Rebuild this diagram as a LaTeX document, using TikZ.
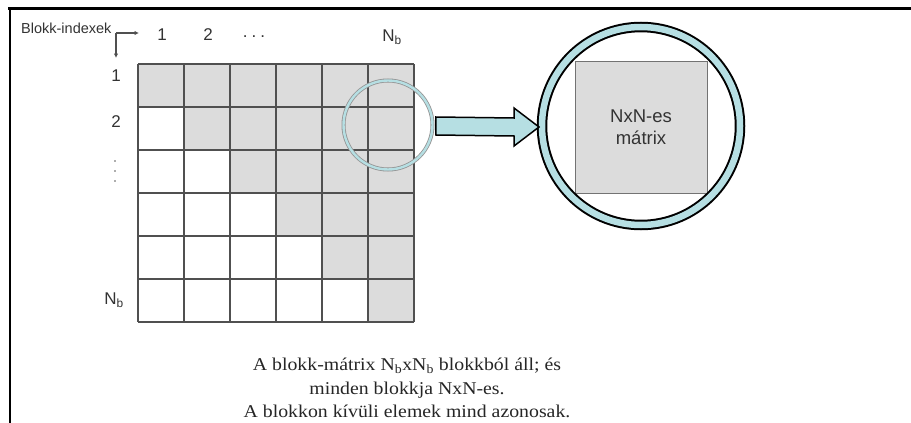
\documentclass[tikz,border=0pt]{standalone}
\usepackage{fontspec}
\setmainfont{Liberation Serif}
\newfontfamily\arial{Liberation Sans}
\usetikzlibrary{calc,arrows.meta}
\definecolor{cellgray}{HTML}{DCDCDC}
\definecolor{gridline}{HTML}{505050}
\definecolor{lensblue}{HTML}{B6DFE3}
\definecolor{labelgray}{HTML}{333333}
\tikzset{
  cell/.style={fill=cellgray, draw=none},
  gridrule/.style={draw=gridline, line width=1.1pt},
  idx/.style={font=\arial\fontsize{17}{17}\selectfont, text=labelgray, inner sep=0pt},
  idxarrow/.style={draw=gridline, line width=1.4pt, -{Latex[length=4.5pt,width=4.5pt]}},
  rowdot/.style={circle, fill=labelgray!80, inner sep=0pt, minimum size=1.6pt},
  lens/.style={circle, inner sep=0pt, draw=gray!85, line width=0.8pt, double=lensblue, double distance=2.4pt},
  bigring/.style={circle, inner sep=0pt, draw=black, line width=2pt, double=lensblue, double distance=6.5pt},
  blockbox/.style={fill=cellgray, draw=gridline!80, line width=0.8pt},
}
\begin{document}
\begin{tikzpicture}[x=1pt, y=-1pt]
  \useasboundingbox (0,0) rectangle (911,423);
  \fill[white] (0,0) rectangle (911,423);
  % frame lines
  \draw[line width=2.6pt] (8,8.7) -- (911,8.7);
  \draw[line width=2.2pt] (10,8) -- (10,423);

  % shaded upper-triangular blocks (diagonal included)
  \foreach \r in {0,...,5} {
    \foreach \c in {\r,...,5} {
      \path[cell] ({138+46*\c},{64+43*\r}) rectangle ({138+46*(\c+1)},{64+43*(\r+1)});
    }
  }
  % grid
  \foreach \c in {0,...,6} \draw[gridrule] ({138+46*\c},64) -- ({138+46*\c},322);
  \foreach \r in {0,...,6} \draw[gridrule] (138,{64+43*\r}) -- (414,{64+43*\r});

  % block indices
  \node[idx, anchor=west, font=\arial\fontsize{14.5}{14.5}\selectfont] (title) at (21,28) {Blokk-indexek};
  \coordinate (corner) at (116,33);
  \coordinate (colarrow) at (139,33);
  \coordinate (rowarrow) at (116,58);
  \draw[idxarrow] (corner) -- (colarrow);
  \draw[idxarrow] (corner) -- (rowarrow);
  \node[idx] (c1) at (162,35) {1};
  \node[idx] (c2) at (208,35) {2};
  \node[idx] (cdots) at (254,37) {.\hspace{4pt}.\hspace{4pt}.};
  \node[idx] (cn) at (392,37) {N\textsubscript{b}};
  \node[idx] (r1) at (116,76) {1};
  \node[idx] (r2) at (116,122) {2};
  \node[rowdot] (rd1) at (115,161) {};
  \node[rowdot] (rd2) at (115,171) {};
  \node[rowdot] (rd3) at (115,181) {};
  \node[idx] (rn) at (114,300) {N\textsubscript{b}};

  % magnifier on the top-right block and the enlarged block
  \node[lens, minimum size=89pt] (lensc) at (388,125) {};
  \node[blockbox, minimum width=132pt, minimum height=132pt, align=center,
        font=\arial\fontsize{18.5}{22}\selectfont, text=labelgray] (block) at (641,127) {NxN-es\\mátrix};
  \node[bigring, minimum size=198pt] (zoomc) at (641,126) {};

  % thick arrow from the lens to the enlarged block
  \draw[fill=lensblue, line width=1.5pt, line join=miter]
    ($(lensc.east)+(3,-8)$) -- ($(zoomc.west)+(-27,-8)$) -- ($(zoomc.west)+(-27,-18)$)
    -- ($(zoomc.west)+(-2,1)$) -- ($(zoomc.west)+(-27,20)$) -- ($(zoomc.west)+(-27,10)$)
    -- ($(lensc.east)+(3,10)$) -- cycle;

  % caption
  \node[align=center, font=\fontsize{18}{23.5}\selectfont, text=black!85] (caption) at (407,388)
    {\scalebox{1.1}[1]{A blokk-mátrix N\textsubscript{b}xN\textsubscript{b} blokkból áll; és}\\
     \scalebox{1.1}[1]{minden blokkja NxN-es.}\\
     \scalebox{1.1}[1]{A blokkon kívüli elemek mind azonosak.}};
\end{tikzpicture}
\end{document}
